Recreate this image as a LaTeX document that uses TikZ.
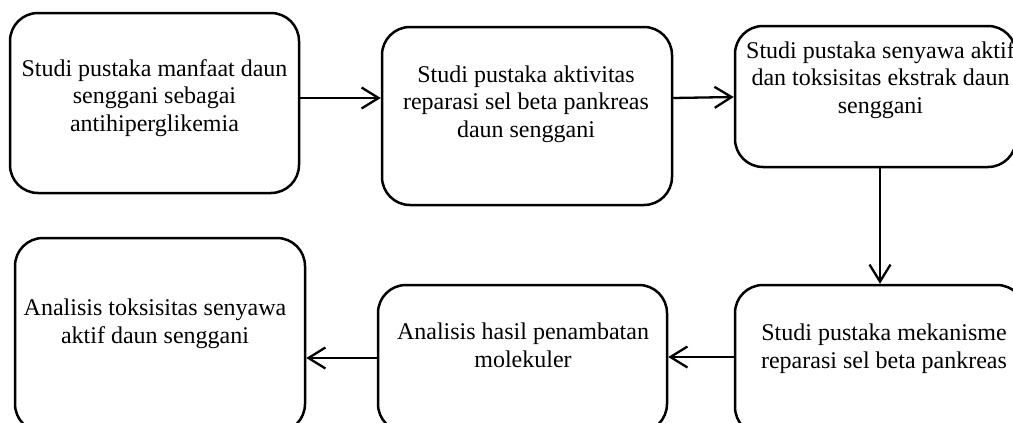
\documentclass[tikz,border=0pt]{standalone}
\usepackage{fontspec}
\setmainfont{Liberation Serif}
\usetikzlibrary{arrows.meta}
\begin{document}
\begin{tikzpicture}[x=1pt,y=-1pt,
  box/.style={draw=black, line width=2.5pt, rounded corners=28pt, inner sep=0pt},
  txt/.style={align=center, inner sep=0pt, font=\fontsize{24}{27.6}\selectfont},
  arr/.style={line width=2.3pt, -{Straight Barb[length=17pt,width=21pt,line width=2.3pt]}}]
\useasboundingbox (0,0) rectangle (1013,423);
\clip (0,0) rectangle (1013,423);
% boxes
\node[box, minimum width=289pt, minimum height=180pt] (b1) at (154.5,103) {};
\node[box, minimum width=290pt, minimum height=178pt] (b2) at (527,116) {};
\node[box, minimum width=281pt, minimum height=141pt] (b3) at (875.5,96.5) {};
\node[box, minimum width=290pt, minimum height=194pt] (b4) at (160,335) {};
\node[box, minimum width=289pt, minimum height=147pt] (b5) at (522.5,358.5) {};
\node[box, minimum width=290pt, minimum height=150pt] (b6) at (880,360) {};
% texts
\node[txt] (t1) at (154.5,98) {Studi pustaka manfaat daun\\senggani sebagai\\antihiperglikemia};
\node[txt] (t2) at (526,104) {Studi pustaka aktivitas\\reparasi sel beta pankreas\\daun senggani};
\node[txt] (t3) at (880.5,80) {Studi pustaka senyawa aktif\\dan toksisitas ekstrak daun\\senggani};
\node[txt] (t4) at (155,324) {Analisis toksisitas senyawa\\aktif daun senggani};
\node[txt] (t5) at (523,345) {Analisis hasil penambatan\\molekuler};
\node[txt] (t6) at (884,349) {Studi pustaka mekanisme\\reparasi sel beta pankreas};
% connectors
\coordinate (ya) at (0,98);
\coordinate (yb) at (0,97);
\coordinate (xc) at (880,0);
\coordinate (yd) at (0,357);
\coordinate (ye) at (0,358);
\draw[arr] (b1.east |- ya) -- (b2.west |- ya);
\draw[arr] (b2.east |- ya) -- (b3.west |- yb);
\draw[arr] (b3.south -| xc) -- (b6.north -| xc);
\draw[arr] (b6.west |- yd) -- (b5.east |- yd);
\draw[arr] (b5.west |- ye) -- (b4.east |- ye);
\end{tikzpicture}
\end{document}
